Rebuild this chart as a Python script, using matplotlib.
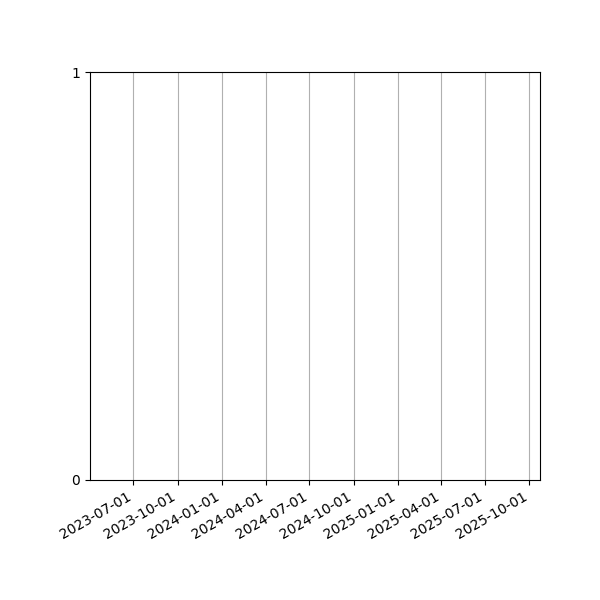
import datetime as dt
import matplotlib
matplotlib.use("Agg")
import matplotlib.pyplot as plt
import matplotlib.dates as mdates

# chart has no plotted series, only the date axis
x_start = dt.date(2023, 4, 2)
x_end = dt.date(2025, 10, 23)
tick_dates = [dt.date(2023, 7, 1), dt.date(2023, 10, 1), dt.date(2024, 1, 1),
              dt.date(2024, 4, 1), dt.date(2024, 7, 1), dt.date(2024, 10, 1),
              dt.date(2025, 1, 1), dt.date(2025, 4, 1), dt.date(2025, 7, 1),
              dt.date(2025, 10, 1)]
y_ticks = [0, 1]

fig, ax = plt.subplots(figsize=(6, 6), dpi=100)
ax.set_xlim(x_start, x_end)
ax.set_ylim(0, 1)
ax.set_xticks(tick_dates)
ax.xaxis.set_major_formatter(mdates.DateFormatter("%Y-%m-%d"))
ax.set_yticks(y_ticks)
ax.grid(axis="x")
fig.autofmt_xdate()
fig.subplots_adjust(left=0.15, right=0.9, top=0.88, bottom=0.2)
fig.savefig("out.png")
